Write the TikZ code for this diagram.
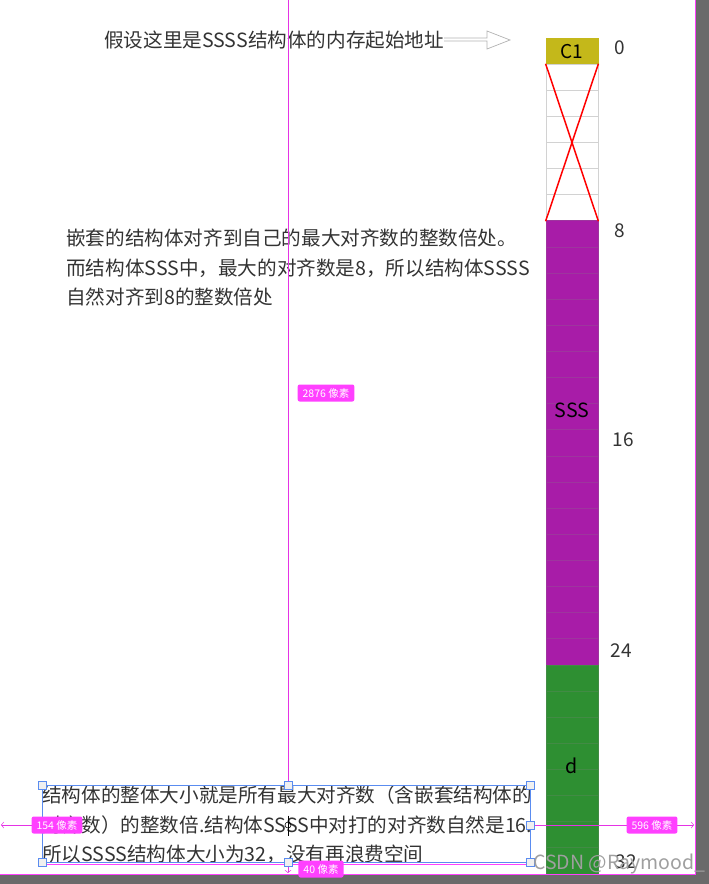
\documentclass[tikz,border=0pt]{standalone}
\usepackage{fontspec}
\setmainfont{Noto Sans CJK SC}
\usetikzlibrary{positioning, arrows.meta}

\definecolor{cone}{RGB}{196,184,26}
\definecolor{sss}{RGB}{168,28,168}
\definecolor{dgreen}{RGB}{46,143,50}
\definecolor{guide}{RGB}{255,64,255}
\definecolor{sel}{RGB}{90,140,240}
\definecolor{frame}{RGB}{106,106,106}

\tikzset{
	txt/.style={font=\fontsize{19.6}{29.5}\selectfont, text=black!80, inner sep=0pt},
	cell/.style={minimum width=52pt, minimum height=26.125pt, inner sep=0pt, draw=#1, line width=0.8pt},
	offs/.style={font=\fontsize{19}{19}\selectfont, text=black!80, inner sep=0pt},
	px/.style={fill=guide, rounded corners=2pt, text=white, font=\fontsize{10.5}{10.5}\selectfont,
		inner xsep=5pt, minimum height=17pt, inner ysep=0pt},
	handle/.style={draw=sel, fill=gray!12, minimum size=8pt, inner sep=0pt},
	hollow/.style={draw=gray!60, line width=0.7pt},
	gline/.style={guide!80!violet, line width=0.5pt},
}

\begin{document}
\begin{tikzpicture}[x=1pt, y=-1pt]
		\useasboundingbox (0,0) rectangle (709,884);
		
		% memory column
		\node[cell=cone, fill=cone, font=\fontsize{19}{19}\selectfont] (c0) at (572,51.06) {C1};
		\foreach \i in {1,...,6}
			\node[cell=gray!35, fill=white] (c\i) at (572,{51.06+26.125*\i}) {};
		\foreach \i in {7,...,23}
			\node[cell=sss!75!gray, fill=sss] (c\i) at (572,{51.06+26.125*\i}) {};
		\foreach \i in {24,...,31}
			\node[cell=dgreen!75!gray, fill=dgreen] (c\i) at (572,{51.06+26.125*\i}) {};
		\draw[red, line width=1.5pt] (c1.north west) -- (c6.south east)
		(c1.north east) -- (c6.south west);
		\node[txt, text=black] (sss) at (572,410) {SSS};
		\node[txt, text=black] (d) at (572,766) {d};
		
		\node[offs] (o0) at (620,48) {0};
		\node[offs] (o8) at (620,231) {8};
		\node[offs] (o16) at (623,440) {16};
		\node[offs] (o24) at (621,651) {24};
		\node[offs] (o32) at (626,862) {32};
		
		% start address
		\node[txt, anchor=base west] (title) at (104,47) {假设这里是SSSS结构体的内存起始地址};
		\coordinate (tip) at (510,40);
		\draw[hollow] ([yshift=1.5pt]title.east) -- ([yshift=1.5pt]title.east -| 487,0) -- (487,31) -- (tip)
		-- (487,49) -- ([yshift=-1.5pt]title.east -| 487,0) -- ([yshift=-1.5pt]title.east);
		
		\node[txt, anchor=north west, align=left] (nest) at (66,229)
		{嵌套的结构体对齐到自己的最大对齐数的整数倍处。\\而结构体SSS中，最大的对齐数是8，所以结构体SSSS\\自然对齐到8的整数倍处};
		
		\node[txt, anchor=north west, align=left] (total) at (42,786)
		{结构体的整体大小就是所有最大对齐数（含嵌套结构体的\\对齐数）的整数倍.结构体SSSS中对打的对齐数自然是16.\\所以SSSS结构体大小为32，没有再浪费空间};
		
		% editor overlay
		\fill[frame] (696,0) rectangle (709,884) (0,875) rectangle (696,884);
		\draw[guide, line width=0.8pt] (0,874) -- (695,874) -- (695,0);
		\coordinate (bl) at (42,862);
		\coordinate (tr) at (530,785);
		\draw[sel, line width=0.8pt] (bl) rectangle (tr);
		\draw[guide, line width=0.8pt] (42,864.5) -- (530,864.5);
		\draw[gline] (288,0) -- (288,785);
		\draw[gline, {Straight Barb[length=2.5pt,width=6pt]}-] (1,825) -- (42,825);
		\draw[gline, -{Straight Barb[length=2.5pt,width=6pt]}] (530,825) -- (694,825);
		\draw[gline, -{Straight Barb[length=2.5pt,width=6pt]}] (288,866) -- (288,873);
		\foreach \hx/\hy [count=\k] in {42/785, 288/785, 530/785, 42/862, 288/862, 530/862, 530/825}
			\node[handle] (h\k) at (\hx,\hy) {};
		\node[draw=black, circle, line width=0.6pt, minimum size=6pt, inner sep=0pt] (cur) at (288,825) {};
		\draw[black, line width=1pt] (cur.north) ++(0,-6) -- ++(0,20);
		
		\node[px] (w1) at (326,393) {2876 像素};
		\node[px] (w2) at (57,825) {154 像素};
		\node[px] (w3) at (652,825) {596 像素};
		\node[px] (w4) at (321,869) {40 像素};
		
		\node[font=\fontsize{19.5}{19.5}\selectfont, text=gray!75, anchor=base west, inner sep=0pt] (wm) at (533,869) {CSDN @Raymood\_};
	\end{tikzpicture}
\end{document}
